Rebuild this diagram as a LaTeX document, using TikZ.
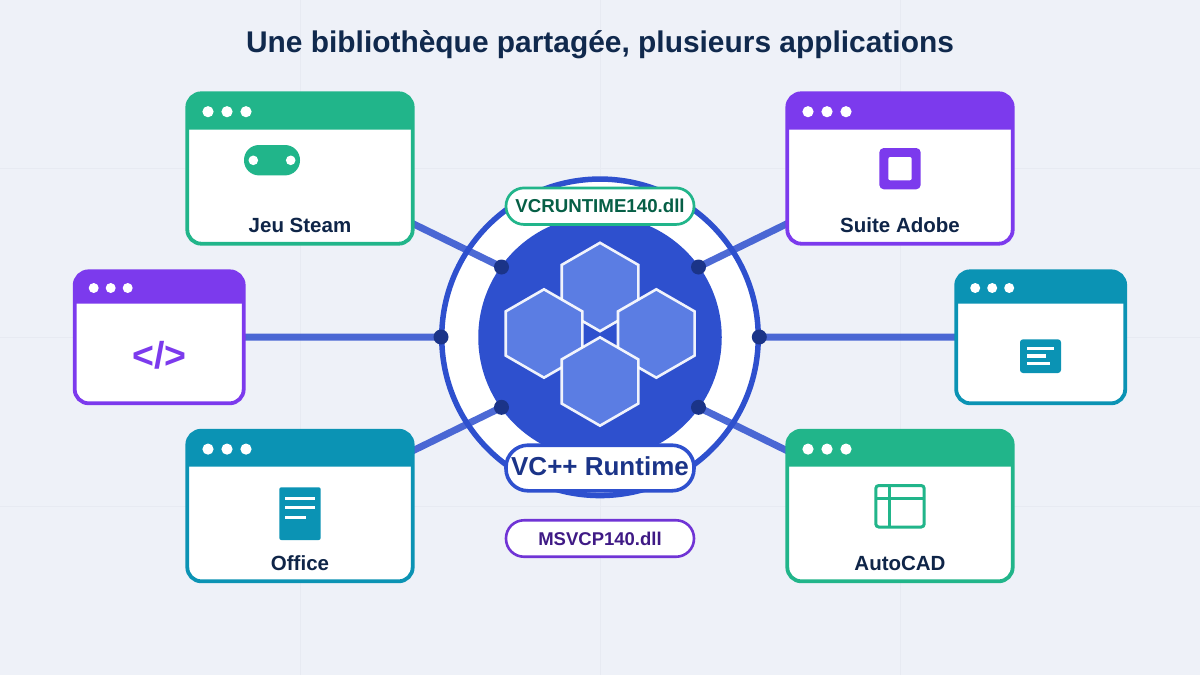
\documentclass[tikz,border=0pt]{standalone}
\usepackage{fontspec}
\setmainfont{Liberation Sans}
\usetikzlibrary{backgrounds}
\definecolor{bgc}{HTML}{EEF1F8}
\definecolor{gridc}{HTML}{E7EAF2}
\definecolor{gr}{HTML}{21B58A}
\definecolor{pu}{HTML}{7C3AED}
\definecolor{te}{HTML}{0B93B4}
\definecolor{bl}{HTML}{2E50CE}
\definecolor{hexc}{HTML}{5B7DE3}
\definecolor{dotc}{HTML}{1B3488}
\definecolor{ink}{HTML}{0F2548}
\definecolor{titlec}{HTML}{10294D}
\definecolor{grtext}{HTML}{065F46}
\definecolor{putext}{HTML}{3F1A85}
\newcommand{\fs}[1]{\fontsize{#1}{#1}\selectfont\bfseries}
\tikzset{
  winbox/.style={rectangle,fill=white,line width=3.8pt,rounded corners=14pt,inner sep=0pt},
  applabel/.style={anchor=base,text=ink,inner sep=0pt,font=\fs{20.5}},
  pillbox/.style={rectangle,fill=white,inner sep=0pt,minimum width=188pt},
  junction/.style={circle,fill=dotc,minimum size=15pt,inner sep=0pt},
  link/.style={draw=bl,line width=7pt,opacity=.85},
  hexa/.style={fill=hexc,draw=white,draw opacity=.92,line width=2.6pt,line join=miter},
}
% name, cx, cy, w, h (path), top, header bottom, colour, dot spacing
\newcommand{\appwin}[9]{%
  \node[winbox,draw=#8,minimum width=#4pt,minimum height=#5pt] (#1) at (#2,#3) {};
  \pgfmathsetmacro{\wl}{#2-#4/2}\pgfmathsetmacro{\wr}{#2+#4/2}
  \fill[#8] (\wl,#7) [rounded corners=14pt] -- (\wl,#6) -- (\wr,#6) -- (\wr,#7);
  \pgfmathsetmacro{\dsp}{#9}
  \pgfmathsetmacro{\da}{\wl+(\dsp>18 ? 20.7 : 19)}
  \pgfmathsetmacro{\db}{\da+\dsp}\pgfmathsetmacro{\dc}{\db+\dsp}
  \pgfmathsetmacro{\dy}{#6+(\dsp>18 ? 18.4 : 16.7)}
  \pgfmathsetmacro{\drad}{(\dsp>18 ? 5.6 : 5)}
  \foreach \q in {\da,\db,\dc} {\fill[white] (\q,\dy) circle (\drad pt);}
}
\newcommand{\hexat}[2]{%
  \draw[hexa] (#1,#2-44.2) -- (#1+38.3,#2-22.1) -- (#1+38.3,#2+22.1) -- (#1,#2+44.2) -- (#1-38.3,#2+22.1) -- (#1-38.3,#2-22.1) -- cycle;
}
\begin{document}
\begin{tikzpicture}[x=1pt,y=-1pt]
\useasboundingbox (0,0) rectangle (1200,675);
% application windows
\appwin{wa}{300}{168.5}{225.4}{150.4}{93.3}{129.5}{gr}{19}
\appwin{wb}{159.2}{337.3}{169}{132}{271.3}{303.5}{pu}{17}
\appwin{wc}{300}{506}{225.4}{150.6}{430.7}{466.7}{te}{19}
\appwin{wd}{900}{168.5}{225.4}{150.4}{93.3}{129.5}{pu}{19}
\appwin{we}{1040.7}{337.3}{169}{132}{271.3}{303.5}{te}{17}
\appwin{wf}{900}{506}{225.4}{150.6}{430.7}{466.7}{gr}{19}
% junction dots
\node[junction] (ja) at (501.5,267) {};
\node[junction] (jb) at (441,337) {};
\node[junction] (jc) at (501.5,407.3) {};
\node[junction] (jd) at (698.5,267) {};
\node[junction] (je) at (759.3,337) {};
\node[junction] (jf) at (698.5,407.3) {};
\begin{pgfonlayer}{background}
  \fill[bgc] (0,0) rectangle (1200,675);
  \foreach \gx in {300,600,900} {\draw[gridc,line width=1pt] (\gx,0) -- (\gx,675);}
  \foreach \gy in {168.75,337.5,506.25} {\draw[gridc,line width=1pt] (0,\gy) -- (1200,\gy);}
  \node[circle,draw=bl,fill=white,line width=5.5pt,minimum size=316.5pt,inner sep=0pt] (ring) at (600,337.3) {};
  \node[circle,fill=bl,minimum size=243.5pt,inner sep=0pt] (core) at (600,337.3) {};
  \draw[link] (wa.center) -- (ja.center);
  \draw[link] (wb.center) -- (jb.center);
  \draw[link] (wc.center) -- (jc.center);
  \draw[link] (wd.center) -- (jd.center);
  \draw[link] (we.center) -- (je.center);
  \draw[link] (wf.center) -- (jf.center);
\end{pgfonlayer}
% hexagons
\hexat{600}{287}
\hexat{544}{333.5}
\hexat{656.3}{333.5}
\hexat{600}{381.5}
% pills
\node[pillbox,draw=gr,line width=2.7pt,minimum height=36.5pt,rounded corners=18pt,text=grtext,font=\fs{18.7}] (pa) at (600,206.2) {VCRUNTIME140.dll};
\node[pillbox,draw=bl,line width=3.6pt,minimum height=45.6pt,rounded corners=22pt,text=dotc,font=\fs{26},text depth=4pt] (pb) at (600,468) {VC++ Runtime};
\node[pillbox,draw=pu!90!black,line width=2.6pt,minimum height=36.5pt,rounded corners=18pt,text=putext,font=\fs{18.5}] (pc) at (600,538.5) {MSVCP140.dll};
% title and labels
\node[anchor=base,text=titlec,inner sep=0pt,font=\fs{29.9}] (title) at (600,52) {Une bibliothèque partagée, plusieurs applications};
\node[applabel] (la) at (300,232.7) {Jeu Steam};
\node[applabel] (lc) at (300,570) {Office};
\node[applabel] (ld) at (900,232.7) {Suite Adobe};
\node[applabel] (lf) at (900,570) {AutoCAD};
\node[anchor=base,text=pu,inner sep=0pt,font=\fs{37.5}] (lb) at (159.7,368.5) {</>};
% icon: game pad
\fill[gr,rounded corners=15pt] (244,145) rectangle (300,175.4);
\fill[white] (253.3,160.3) circle (4.8pt) (290.7,160.3) circle (4.8pt);
% icon: square
\fill[pu,rounded corners=4.5pt] (879.3,148) rectangle (920.7,189.3);
\fill[white,rounded corners=2pt] (888.3,157) rectangle (911.7,180.3);
% icon: document
\fill[te,rounded corners=2pt] (279.3,487.3) rectangle (320.7,540);
\draw[white,line width=3pt] (285,498.3) -- (315.3,498.3) (285,507.7) -- (315.3,507.7) (285,517) -- (306,517);
% icon: text card
\fill[te,rounded corners=3pt] (1020,339.3) rectangle (1061,373);
\draw[white,line width=3.4pt] (1027.3,348.3) -- (1054,348.3) (1027.3,356) -- (1046.3,356) (1027.3,363.7) -- (1050,363.7);
% icon: table
\draw[gr,line width=3pt,rounded corners=3pt] (875.8,485.5) rectangle (924.2,527);
\draw[gr,line width=3pt] (875.8,498.7) -- (924.2,498.7) (889,485.5) -- (889,527);
\end{tikzpicture}
\end{document}
